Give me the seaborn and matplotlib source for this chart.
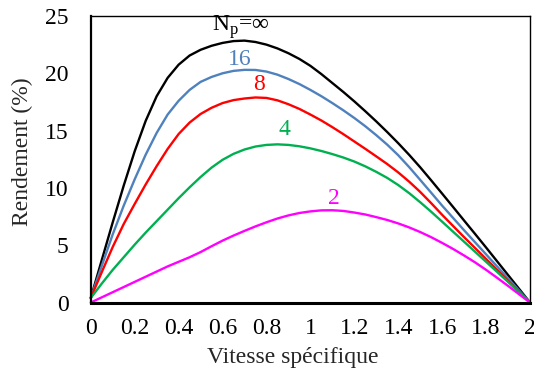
import numpy as np
import pandas as pd
import matplotlib
matplotlib.use("Agg")
import matplotlib.pyplot as plt
import seaborn as sns

x_vals = [0, 0.05, 0.1, 0.15, 0.2, 0.25, 0.3, 0.35, 0.4, 0.45,
          0.5, 0.55, 0.6, 0.65, 0.7, 0.75, 0.8, 0.85, 0.9, 0.95,
          1.0, 1.05, 1.1, 1.15, 1.2, 1.25, 1.3, 1.35, 1.4, 1.45,
          1.5, 1.55, 1.6, 1.65, 1.7, 1.75, 1.8, 1.85, 1.9, 1.95, 2.0]

np_inf = [0.4, 3.7, 7.0, 10.2, 13.2, 15.85, 18.0, 19.6, 20.75, 21.55,
          22.05, 22.4, 22.65, 22.81, 22.85, 22.73, 22.5, 22.17, 21.75, 21.25,
          20.65, 19.93, 19.15, 18.37, 17.55, 16.69, 15.8, 14.87, 13.9, 12.88,
          11.8, 10.66, 9.5, 8.33, 7.15, 5.98, 4.8, 3.6, 2.4, 1.2, 0]
np_16 = [0.4, 3.2, 5.95, 8.45, 10.75, 12.9, 14.8, 16.4, 17.6, 18.55,
         19.25, 19.68, 20.0, 20.21, 20.3, 20.29, 20.15, 19.88, 19.5, 19.06,
         18.55, 18.0, 17.4, 16.77, 16.1, 15.38, 14.6, 13.77, 12.85, 11.81,
         10.7, 9.58, 8.45, 7.375, 6.3, 5.25, 4.2, 3.15, 2.1, 1.05, 0]
np_8 = [0.4, 2.65, 4.85, 6.85, 8.6, 10.3, 11.9, 13.4, 14.7, 15.7,
        16.45, 16.99, 17.4, 17.66, 17.8, 17.89, 17.85, 17.64, 17.3, 16.89,
        16.4, 15.88, 15.3, 14.69, 14.05, 13.41, 12.75, 12.08, 11.35, 10.54,
        9.65, 8.67, 7.65, 6.675, 5.7, 4.75, 3.8, 2.85, 1.9, 0.95, 0]
np_4 = [0.4, 1.65, 2.85, 3.95, 5.05, 6.1, 7.1, 8.1, 9.1, 10.05,
        10.95, 11.77, 12.45, 12.97, 13.35, 13.61, 13.75, 13.8, 13.75, 13.63,
        13.45, 13.22, 12.95, 12.65, 12.3, 11.88, 11.4, 10.87, 10.25, 9.54,
        8.75, 7.92, 7.05, 6.175, 5.3, 4.425, 3.55, 2.675, 1.8, 0.9, 0]
np_2 = [0, 0.45, 0.9, 1.35, 1.8, 2.25, 2.7, 3.15, 3.55, 3.95,
        4.4, 4.91, 5.4, 5.84, 6.25, 6.64, 7.0, 7.33, 7.6, 7.81,
        7.95, 8.04, 8.05, 7.99, 7.85, 7.68, 7.45, 7.2, 6.9, 6.55,
        6.15, 5.7, 5.2, 4.67, 4.1, 3.5, 2.85, 2.16, 1.45, 0.725, 0]

series_names = ["inf", "16", "8", "4", "2"]
series_vals = [np_inf, np_16, np_8, np_4, np_2]
series_colors = ["#000000", "#4F81BD", "#FF0000", "#00B050", "#FF00FF"]

x_ticks = [0, 0.2, 0.4, 0.6, 0.8, 1.0, 1.2, 1.4, 1.6, 1.8, 2.0]
x_tick_labels = ["0", "0.2", "0.4", "0.6", "0.8", "1", "1.2", "1.4", "1.6", "1.8", "2"]
y_ticks = [0, 5, 10, 15, 20, 25]

rows = []
for name, vals in zip(series_names, series_vals):
    for xv, yv in zip(x_vals, vals):
        rows.append({"x": xv, "y": yv, "Np": name})
df = pd.DataFrame(rows)

sns.set_style("white")
plt.rcParams["font.family"] = ["Liberation Serif", "DejaVu Serif"]
plt.rcParams["mathtext.fontset"] = "custom"
plt.rcParams["mathtext.rm"] = "Liberation Serif"

FS = 17

fig = plt.figure(figsize=(5.34, 3.77), dpi=100)
ax = fig.add_axes([0.170, 0.1976, 0.8225, 0.76])

sns.lineplot(data=df, x="x", y="y", hue="Np", hue_order=series_names,
             palette=series_colors, linewidth=1.7, legend=False, ax=ax,
             sort=False, clip_on=False)
for ln in ax.get_lines():
    ln.set_solid_joinstyle("round")

ax.set_xlim(0, 2)
ax.set_ylim(0, 25)
ax.set_xticks(x_ticks)
ax.set_xticklabels(x_tick_labels)
ax.set_yticks(y_ticks)
ax.tick_params(axis="both", direction="in", length=5, width=1.0,
               labelsize=FS, colors="black")
ax.tick_params(axis="x", pad=11)
ax.tick_params(axis="y", pad=16)
ax.set_xlabel("Vitesse spécifique", fontsize=FS)
ax.set_ylabel("Rendement (%)", fontsize=FS)
ax.xaxis.set_label_coords(0.46, -0.155)
ax.yaxis.set_label_coords(-0.132, 0.525)

for side, w in [("bottom", 2.2), ("left", 1.6), ("top", 1.0), ("right", 1.0)]:
    ax.spines[side].set_visible(True)
    ax.spines[side].set_color("black")
    ax.spines[side].set_linewidth(w)

ax.text(0.683, 24.0, r"N$_\mathregular{p}$=∞", fontsize=FS, color="black",
        ha="center", va="center")
ax.text(0.678, 21.2, "16", fontsize=FS, color="#4F81BD", ha="center", va="center")
ax.text(0.767, 19.0, "8", fontsize=FS, color="#FF0000", ha="center", va="center")
ax.text(0.884, 15.1, "4", fontsize=FS, color="#00B050", ha="center", va="center")
ax.text(1.106, 9.07, "2", fontsize=FS, color="#FF00FF", ha="center", va="center")

fig.savefig("out.png", dpi=100)
